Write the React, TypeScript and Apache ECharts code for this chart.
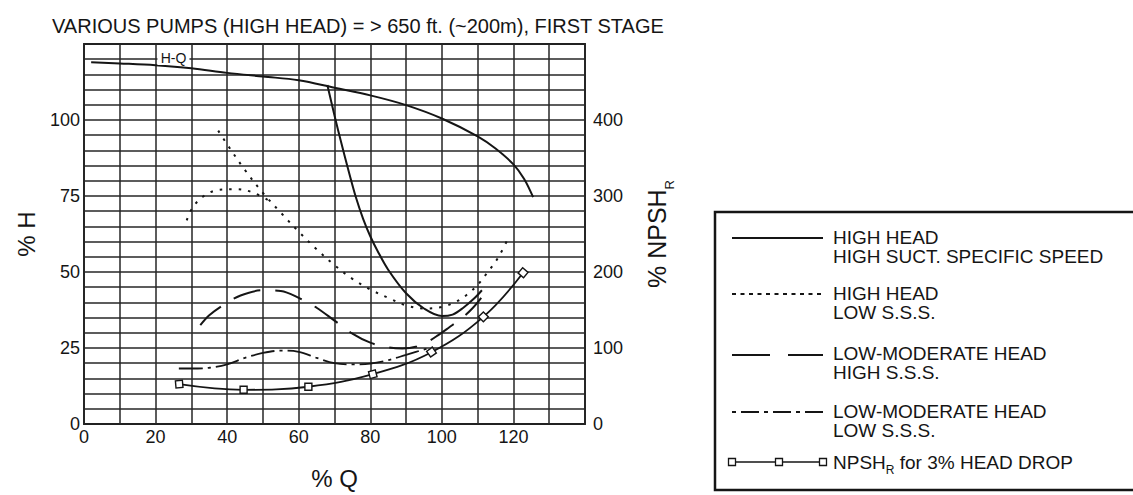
import React, { useEffect, useRef } from 'react';
import * as echarts from 'echarts';

// ---------- data ----------
const TITLE = 'VARIOUS PUMPS (HIGH HEAD) = > 650 ft. (~200m), FIRST STAGE';
const X_TICKS = [0, 20, 40, 60, 80, 100, 120];
const H_TICKS = [0, 25, 50, 75, 100];
const NPSH_TICKS = [0, 100, 200, 300, 400];

// H-Q curve: [%Q, %H]
const HQ_CURVE: number[][] = [
  [2, 119], [10, 118.6], [20, 118.0], [30, 117.0], [40, 115.5], [50, 114.3],
  [60, 113.1], [70, 110.6], [80, 108.1], [90, 104.9], [100, 100.5], [110, 94.6],
  [115, 90.6], [120, 85.4], [123, 80.6], [125.5, 74.6],
];

// NPSH curves: [%Q, %NPSHR]
const HIGH_HEAD_HIGH_SSS: number[][] = [
  [68, 446], [70, 406], [72, 368], [74, 332], [76, 298], [78, 270], [80, 247],
  [82, 228], [85, 203], [90, 172], [95, 152], [100, 142], [103, 144], [106, 153],
  [109, 165], [111.2, 176],
];
const HIGH_HEAD_LOW_SSS_UPPER: number[][] = [
  [37.5, 386], [40, 368], [45, 334], [50, 304], [55, 278], [60, 253], [65, 230],
  [70, 209], [75, 191], [80, 177], [85, 166], [90, 156], [95, 152], [100, 154],
  [104, 161], [107, 170], [110, 183], [112, 195], [114, 207], [116, 221], [118.5, 244],
];
const HIGH_HEAD_LOW_SSS_HUMP: number[][] = [
  [28.7, 268], [30.5, 286], [33.5, 300], [37.5, 308], [42.5, 309], [47, 305], [52, 293],
];
const LOW_MOD_HIGH_SSS: number[][] = [
  [32.5, 130], [35, 143], [38.75, 156], [43.75, 169], [50, 176], [55, 175], [60, 166],
  [65, 153], [70, 136], [75, 119], [80, 107], [85, 101], [89, 99.5], [93, 102],
  [96, 108], [99, 117], [102, 127], [105.5, 139], [108.5, 152], [111, 166],
];
const LOW_MOD_LOW_SSS: number[][] = [
  [26.5, 73], [30, 73], [35, 74], [40, 78.5], [45, 87], [50, 93.5], [55, 96.5],
  [60, 95], [65, 87], [70, 80], [75, 78.5], [80, 79.5], [85, 84], [90, 91],
  [95, 98], [97.5, 101],
];
const NPSH_3PCT: number[][] = [
  [26.6, 52.5], [44.6, 45], [62.7, 49], [80.7, 65.5], [97.1, 94.5], [111.6, 141], [122.7, 199],
];
const HQ_LABEL = { text: 'H-Q', coord: [25, 120.4] };

const LEGEND_LABELS = [
  'HIGH HEAD\nHIGH SUCT. SPECIFIC SPEED',
  'HIGH HEAD\nLOW S.S.S.',
  'LOW-MODERATE HEAD\nHIGH S.S.S.',
  'LOW-MODERATE HEAD\nLOW S.S.S.',
  'NPSH{sub|R} for 3% HEAD DROP',
];

// ---------- styles ----------
const FONT = '"Liberation Sans", Arial, Helvetica, sans-serif';
const INK = '#151515';
const GRIDLINE = '#262626';
const DOTTED = [2.5, 7];
const LONG_DASH = [28, 15];
const DASH_DOT = [24, 5, 3, 5];
const MARKER_TILT = [5, 0, 0, 15, 35, 45, 50];

const LEGEND_LINE_DASH: (number[] | null)[] = [null, [4, 4.5], [38, 18], [4, 5, 18, 5], null];
const LEGEND_LINE_Y = [238, 294, 355, 412, 462];
const LEGEND_TEXT_Y = [247, 303, 363, 421, 462];
const LEGEND_SQUARES_X = [732, 779, 823];

function curve(name: string, data: number[][], yAxisIndex: number, dash: any, width = 2) {
  return {
    name,
    type: 'line',
    data,
    yAxisIndex,
    smooth: 0.35,
    symbol: 'none',
    showSymbol: false,
    silent: true,
    lineStyle: { color: INK, width, type: dash },
    z: 3,
  };
}

function buildLegend() {
  const children: any[] = [
    {
      type: 'rect',
      shape: { x: 715, y: 212, width: 440, height: 278 },
      style: { fill: '#fff', stroke: INK, lineWidth: 2.5 },
    },
  ];
  LEGEND_LABELS.forEach((label, i) => {
    const y = LEGEND_LINE_Y[i];
    children.push({
      type: 'line',
      shape: { x1: 732, y1: y, x2: 823, y2: y },
      style: { stroke: INK, lineWidth: i === 4 ? 1.6 : 2, lineDash: LEGEND_LINE_DASH[i] || undefined },
    });
    const isRich = label.indexOf('{') >= 0;
    children.push({
      type: 'text',
      x: 833,
      y: LEGEND_TEXT_Y[i],
      style: {
        text: label,
        fill: INK,
        fontSize: 19,
        fontFamily: FONT,
        lineHeight: isRich ? 28 : 19,
        verticalAlign: 'middle',
        align: 'left',
        rich: isRich
          ? { sub: { fontSize: 12, fontFamily: FONT, fill: INK, verticalAlign: 'bottom', lineHeight: 12 } }
          : undefined,
      },
    });
  });
  LEGEND_SQUARES_X.forEach((x) => {
    children.push({
      type: 'rect',
      shape: { x: x - 3.5, y: LEGEND_LINE_Y[4] - 3.5, width: 7, height: 7 },
      style: { fill: '#fff', stroke: INK, lineWidth: 1.3 },
    });
  });
  return children;
}

const option: any = {
  animation: false,
  backgroundColor: '#fff',
  textStyle: { fontFamily: FONT, color: INK },
  title: {
    text: TITLE,
    left: 47,
    top: 11,
    textStyle: { fontSize: 20, fontWeight: 'normal', color: INK, fontFamily: FONT },
  },
  grid: {
    left: 84,
    top: 44,
    width: 501,
    height: 387,
    show: true,
    borderColor: INK,
    borderWidth: 1.8,
    containLabel: false,
  },
  xAxis: {
    type: 'value',
    min: 0,
    max: 140,
    interval: 10,
    name: '% Q',
    nameLocation: 'middle',
    nameGap: 42,
    nameTextStyle: { fontSize: 24, color: INK, fontFamily: FONT },
    axisLine: { show: false },
    axisTick: { show: false },
    axisLabel: {
      fontSize: 18,
      color: INK,
      margin: 4,
      formatter: (v: number) => (X_TICKS.includes(v) ? String(v) : ''),
    },
    splitLine: { show: true, lineStyle: { color: GRIDLINE, width: 1.5 } },
  },
  yAxis: [
    {
      type: 'value',
      min: 0,
      max: 125,
      interval: 5,
      name: '% H',
      nameLocation: 'middle',
      nameRotate: 90,
      nameGap: 46,
      nameTextStyle: { fontSize: 24, color: INK, fontFamily: FONT },
      axisLine: { show: false },
      axisTick: { show: false },
      axisLabel: {
        fontSize: 18,
        color: INK,
        margin: 4,
        formatter: (v: number) => (H_TICKS.includes(v) ? String(v) : ''),
      },
      splitLine: { show: true, lineStyle: { color: GRIDLINE, width: 1.5 } },
    },
    {
      type: 'value',
      min: 0,
      max: 500,
      interval: 20,
      position: 'right',
      name: '% NPSH{sub|R}',
      nameLocation: 'middle',
      nameRotate: 90,
      nameGap: 52,
      nameTextStyle: {
        fontSize: 25,
        color: INK,
        fontFamily: FONT,
        lineHeight: 39,
        rich: { sub: { fontSize: 13, fontFamily: FONT, color: INK, verticalAlign: 'bottom', lineHeight: 13 } },
      },
      axisLine: { show: false },
      axisTick: { show: false },
      axisLabel: {
        fontSize: 18,
        color: INK,
        margin: 8,
        formatter: (v: number) => (NPSH_TICKS.includes(v) ? String(v) : ''),
      },
      splitLine: { show: false },
    },
  ],
  series: [
    {
      ...curve('H-Q', HQ_CURVE, 0, 'solid', 2),
      markPoint: {
        silent: true,
        symbol: 'rect',
        symbolSize: [32, 14],
        itemStyle: { color: '#fff' },
        label: { show: true, position: 'inside', formatter: HQ_LABEL.text, color: INK, fontSize: 14, fontFamily: FONT },
        data: [{ coord: HQ_LABEL.coord }],
      },
    },
    curve('HIGH HEAD / HIGH SUCT. SPECIFIC SPEED', HIGH_HEAD_HIGH_SSS, 1, 'solid', 2),
    curve('HIGH HEAD / LOW S.S.S.', HIGH_HEAD_LOW_SSS_UPPER, 1, DOTTED, 2),
    curve('HIGH HEAD / LOW S.S.S. (low-flow branch)', HIGH_HEAD_LOW_SSS_HUMP, 1, DOTTED, 2),
    curve('LOW-MODERATE HEAD / HIGH S.S.S.', LOW_MOD_HIGH_SSS, 1, LONG_DASH, 2),
    curve('LOW-MODERATE HEAD / LOW S.S.S.', LOW_MOD_LOW_SSS, 1, DASH_DOT, 1.8),
    {
      name: 'NPSHR for 3% HEAD DROP',
      type: 'line',
      yAxisIndex: 1,
      smooth: 0.4,
      silent: true,
      data: NPSH_3PCT.map((p, i) => ({ value: p, symbolRotate: MARKER_TILT[i] })),
      symbol: 'rect',
      symbolSize: 7,
      showSymbol: true,
      showAllSymbol: true,
      itemStyle: { color: '#fff', borderColor: INK, borderWidth: 1.4 },
      lineStyle: { color: INK, width: 1.8 },
      z: 4,
    },
  ],
  graphic: buildLegend(),
};

export default function App() {
  const ref = useRef<HTMLDivElement>(null);
  useEffect(() => {
    document.body.style.margin = '0';
    const chart = echarts.init(ref.current as HTMLDivElement, null, { renderer: 'svg' });
    chart.setOption(option);
    return () => chart.dispose();
  }, []);
  return <div ref={ref} style={{ width: 1133, height: 495 }} />;
}
